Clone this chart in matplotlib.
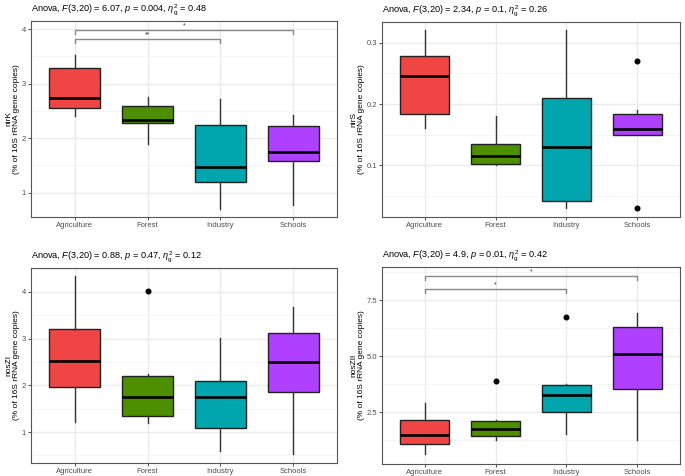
import matplotlib
matplotlib.use("Agg")
import matplotlib.pyplot as plt

plt.rcParams['font.family'] = ['Liberation Sans', 'DejaVu Sans']
plt.rcParams['mathtext.fontset'] = 'custom'
plt.rcParams['mathtext.it'] = 'Liberation Sans:italic'
plt.rcParams['mathtext.rm'] = 'Liberation Sans'

categories = ["Agriculture", "Forest", "Industry", "Schools"]
colors = ["#F04545", "#4E8F00", "#00A6AE", "#B040FF"]

genes = ["nirK", "nirS", "nosZI", "nosZII"]
titles = [
    r"Anova, $F$(3,20) = 6.07, $p$ = 0.004, $\eta^2_{\rm g}$ = 0.48",
    r"Anova, $F$(3,20) = 2.34, $p$ = 0.1, $\eta^2_{\rm g}$ = 0.26",
    r"Anova, $F$(3,20) = 0.88, $p$ = 0.47, $\eta^2_{\rm g}$ = 0.12",
    r"Anova, $F$(3,20) = 4.9, $p$ = 0.01, $\eta^2_{\rm g}$ = 0.42",
]

# per gene: whisker low, Q1, median, Q3, whisker high (one per category)
nirK_whislo = [2.41, 1.90, 0.71, 0.77]
nirK_q1 = [2.55, 2.28, 1.20, 1.59]
nirK_med = [2.74, 2.34, 1.48, 1.74]
nirK_q3 = [3.29, 2.59, 2.25, 2.23]
nirK_whishi = [3.53, 2.76, 2.71, 2.42]
nirK_fliers = [[], [], [], []]

nirS_whislo = [0.161, 0.101, 0.030, 0.150]
nirS_q1 = [0.183, 0.103, 0.042, 0.150]
nirS_med = [0.245, 0.115, 0.130, 0.160]
nirS_q3 = [0.278, 0.135, 0.210, 0.184]
nirS_whishi = [0.320, 0.180, 0.320, 0.190]
nirS_fliers = [[], [], [], [0.270, 0.030]]

nosZI_whislo = [1.22, 1.20, 0.60, 0.53]
nosZI_q1 = [1.97, 1.35, 1.08, 1.86]
nosZI_med = [2.53, 1.76, 1.76, 2.49]
nosZI_q3 = [3.20, 2.19, 2.10, 3.13]
nosZI_whishi = [4.34, 2.25, 3.01, 3.68]
nosZI_fliers = [[], [4.03], [], []]

nosZII_whislo = [0.63, 1.29, 1.56, 1.29]
nosZII_q1 = [1.10, 1.46, 2.53, 3.55]
nosZII_med = [1.50, 1.77, 3.28, 5.13]
nosZII_q3 = [2.16, 2.11, 3.71, 6.31]
nosZII_whishi = [2.92, 2.16, 3.78, 6.92]
nosZII_fliers = [[], [3.92], [6.74], []]

stats_data = {
    "nirK": (nirK_whislo, nirK_q1, nirK_med, nirK_q3, nirK_whishi, nirK_fliers),
    "nirS": (nirS_whislo, nirS_q1, nirS_med, nirS_q3, nirS_whishi, nirS_fliers),
    "nosZI": (nosZI_whislo, nosZI_q1, nosZI_med, nosZI_q3, nosZI_whishi, nosZI_fliers),
    "nosZII": (nosZII_whislo, nosZII_q1, nosZII_med, nosZII_q3, nosZII_whishi, nosZII_fliers),
}

yticks = {
    "nirK": ([1, 2, 3, 4], ["1", "2", "3", "4"]),
    "nirS": ([0.1, 0.2, 0.3], ["0.1", "0.2", "0.3"]),
    "nosZI": ([1, 2, 3, 4], ["1", "2", "3", "4"]),
    "nosZII": ([2.5, 5.0, 7.5], ["2.5", "5.0", "7.5"]),
}
ylims = {
    "nirK": (0.555, 4.147),
    "nirS": (0.0158, 0.3337),
    "nosZI": (0.336, 4.514),
    "nosZII": (0.20, 8.99),
}
# brackets: (group a, group b, y, label)
brackets = {
    "nirK": [(1, 4, 3.98, "*"), (1, 3, 3.82, "**")],
    "nirS": [],
    "nosZI": [],
    "nosZII": [(1, 4, 8.59, "*"), (1, 3, 8.02, "*")],
}
tip_frac = 0.02

W, H = 685, 476
fig = plt.figure(figsize=(W / 100, H / 100), dpi=100)
# axes rectangles in pixels (left, top, right, bottom) and y-label right edge
rects = [(31, 21, 337, 217), (382, 22, 680, 217), (31, 268, 337, 463), (382, 267, 680, 464)]
label_right = [20, 365, 20, 365]

for gene, title, (l, t, r, b), lr in zip(genes, titles, rects, label_right):
    ax = fig.add_axes([l / W, 1 - b / H, (r - l) / W, (b - t) / H])
    wl, q1, med, q3, wh, fl = stats_data[gene]
    st = []
    for i in range(4):
        st.append(dict(whislo=wl[i], q1=q1[i], med=med[i], q3=q3[i], whishi=wh[i], fliers=fl[i]))
    ylo, yhi = ylims[gene]
    ax.set_ylim(ylo, yhi)
    ax.set_xlim(0.4, 4.6)
    ax.set_facecolor("white")
    tv, tl = yticks[gene]
    step = tv[1] - tv[0]
    minors = [v - step / 2 for v in tv] + [tv[-1] + step / 2]
    for m in minors:
        if ylo < m < yhi:
            ax.axhline(m, color="#F2F2F2", lw=0.5, zorder=0)
    for v in tv:
        ax.axhline(v, color="#EBEBEB", lw=1.0, zorder=0)
    for x in range(1, 5):
        ax.axvline(x, color="#EBEBEB", lw=1.0, zorder=0)
    bp = ax.bxp(st, positions=[1, 2, 3, 4], widths=0.7, patch_artist=True,
                showcaps=False, zorder=2,
                boxprops=dict(edgecolor="#222222", linewidth=1.0),
                medianprops=dict(color="black", linewidth=1.9),
                whiskerprops=dict(color="#333333", linewidth=1.0),
                flierprops=dict(marker="o", markerfacecolor="black", markeredgecolor="black",
                                markersize=3.3, linestyle="none"))
    for patch, c in zip(bp["boxes"], colors):
        patch.set_facecolor(c)
    ax.set_xticks([1, 2, 3, 4])
    ax.set_xticklabels(categories, fontsize=5.5, color="#4D4D4D")
    ax.set_yticks(tv)
    ax.set_yticklabels(tl, fontsize=5.5, color="#4D4D4D")
    ax.tick_params(axis="both", length=2.2, width=0.6, color="#333333", pad=1.5)
    for sp in ax.spines.values():
        sp.set_color("#555555")
        sp.set_linewidth(0.8)
    ax.set_ylabel(gene + "\n(% of 16S rRNA gene copies)", fontsize=6.0, linespacing=1.2)
    ax.yaxis.set_label_coords((lr - l) / (r - l), 0.5)
    ax.set_title(title, fontsize=6.6, loc="left", x=0.0, pad=6.5)
    tip = tip_frac * (yhi - ylo)
    for a, bb, y, lab in brackets[gene]:
        ax.plot([a, a, bb, bb], [y - tip, y, y, y - tip], color="#888888", lw=1.0, zorder=3)
        ax.text((a + bb) / 2, y + 0.004 * (yhi - ylo), lab, ha="center", va="bottom",
                fontsize=5, color="#333333")

fig.savefig("out.png", dpi=100)
